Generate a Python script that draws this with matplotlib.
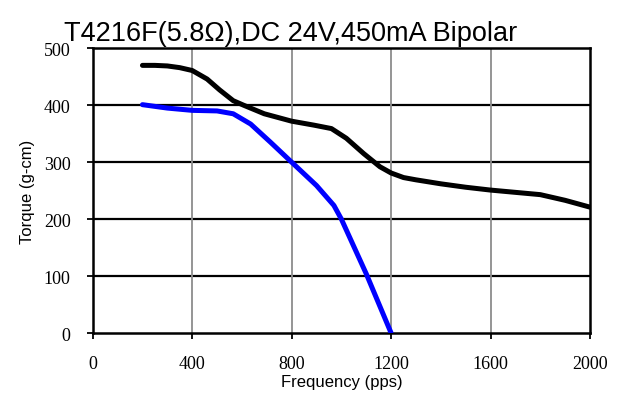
import matplotlib
matplotlib.use("Agg")
import matplotlib.pyplot as plt

# torque curves
freq_black = [200, 250, 300, 350, 400, 460, 510, 565, 607, 690, 800, 890, 960,
              1020, 1090, 1155, 1200, 1250, 1300, 1400, 1500, 1600, 1700,
              1800, 1900, 2000]
torque_black = [470, 470, 469, 466, 461, 446, 427, 408, 400, 385, 372, 365,
                359, 342, 315, 292, 281, 273, 269, 262, 256, 251, 247, 243,
                233, 221]

freq_blue = [200, 300, 400, 500, 565, 635, 715, 800, 900, 970, 1000, 1050,
             1100, 1150, 1200]
torque_blue = [401, 395, 391, 390, 385, 367, 335, 300, 259, 224, 200, 152,
               104, 52, 0]

x_ticks = [0, 400, 800, 1200, 1600, 2000]
y_ticks = [0, 100, 200, 300, 400, 500]

sans = ['Liberation Sans Narrow', 'Liberation Sans', 'DejaVu Sans']
serif = ['Liberation Serif', 'DejaVu Serif']

fig = plt.figure(figsize=(6.19, 4.06), dpi=100)
ax = fig.add_axes([0.1498, 0.1773, 0.8034, 0.7013])

ax.plot(freq_black, torque_black, color='black', lw=3.6,
        solid_capstyle='round', solid_joinstyle='round', zorder=3)
ax.plot(freq_blue, torque_blue, color='#0000ff', lw=3.6,
        solid_capstyle='round', solid_joinstyle='round', zorder=3)

ax.set_xlim(0, 2000)
ax.set_ylim(0, 500)
ax.set_xticks(x_ticks)
ax.set_yticks(y_ticks)

# black horizontal grid, grey vertical grid
for y in y_ticks[1:-1]:
    ax.axhline(y, color='black', lw=1.6, zorder=1)
for x in x_ticks[1:-1]:
    ax.axvline(x, color='#8c8c8c', lw=1.3, zorder=1)

for s in ax.spines.values():
    s.set_linewidth(1.8)
    s.set_color('black')

ax.tick_params(axis='both', direction='out', length=4, width=1.3,
               labelsize=13)
ax.tick_params(axis='y', pad=12)
ax.tick_params(axis='x', pad=12)
for lab in ax.get_xticklabels() + ax.get_yticklabels():
    lab.set_family(serif)

ax.set_xlabel('Frequency (pps)', family=sans, fontsize=12, labelpad=1)
ax.set_ylabel('Torque (g-cm)', family=sans, fontsize=12, labelpad=6)
ax.set_title('T4216F(5.8Ω),DC 24V,450mA Bipolar', family=sans,
             fontsize=19.5, loc='left', x=-0.058, pad=6)

fig.savefig('out.png', dpi=100)
